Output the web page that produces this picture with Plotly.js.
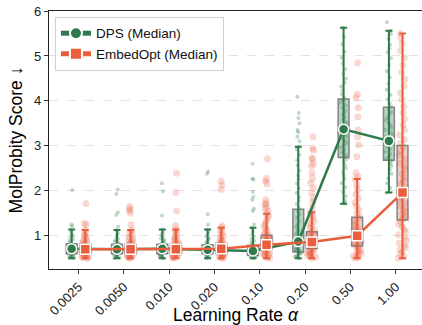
<!DOCTYPE html>
<html>
<head>
<meta charset="utf-8">
<script src="https://cdn.plot.ly/plotly-3.0.1.min.js"></script>
<style>html,body{margin:0;padding:0;background:#fff;}#chart{width:422px;height:325px;}</style>
</head>
<body>
<div id="chart"></div>
<script>
// ---- data ----
const lrLabels = ['0.0025','0.0050','0.010','0.020','0.10','0.20','0.50','1.00'];

const dpsMedian = [0.71,0.70,0.71,0.69,0.66,0.87,3.37,3.11];
const dpsQ1     = [0.60,0.60,0.60,0.60,0.56,0.64,2.74,2.68];
const dpsQ3     = [0.82,0.81,0.81,0.80,0.79,1.59,4.04,3.86];
const dpsLow    = [0.50,0.50,0.50,0.50,0.50,0.50,1.71,1.96];
const dpsHigh   = [1.14,1.13,1.14,1.14,1.18,2.98,5.63,5.56];

const eoMedian = [0.70,0.70,0.70,0.71,0.80,0.86,1.00,1.96];
const eoQ1     = [0.59,0.59,0.59,0.60,0.70,0.72,0.77,1.35];
const eoQ3     = [0.81,0.81,0.81,0.83,1.01,1.09,1.41,3.01];
const eoLow    = [0.50,0.50,0.50,0.50,0.50,0.50,0.50,0.50];
const eoHigh   = [1.13,1.13,1.14,1.18,1.49,1.52,2.26,5.50];

const dpsPoints = [
 [0.50,0.51,0.53,0.55,0.56,0.58,0.59,0.60,0.61,0.62,0.63,0.64,0.65,0.66,0.67,0.68,0.69,0.70,0.71,0.71,0.72,0.73,0.74,0.76,0.77,0.79,0.81,0.83,0.86,0.88,0.92,0.95,0.99,1.03,1.08,1.13,1.21,1.25,2.02],
 [0.50,0.52,0.53,0.55,0.57,0.58,0.60,0.61,0.62,0.63,0.64,0.66,0.67,0.68,0.69,0.70,0.70,0.71,0.72,0.73,0.75,0.76,0.78,0.80,0.82,0.84,0.87,0.90,0.93,0.97,1.01,1.06,1.12,1.20,1.46,1.52,1.93,2.03],
 [0.50,0.51,0.54,0.55,0.57,0.59,0.60,0.61,0.62,0.64,0.65,0.66,0.67,0.68,0.69,0.70,0.71,0.71,0.72,0.74,0.75,0.77,0.78,0.80,0.82,0.85,0.88,0.91,0.94,0.98,1.02,1.07,1.14,1.45,1.99,2.17],
 [0.50,0.52,0.53,0.55,0.56,0.58,0.60,0.61,0.62,0.63,0.64,0.65,0.66,0.68,0.69,0.69,0.70,0.71,0.72,0.73,0.75,0.76,0.78,0.80,0.82,0.84,0.87,0.91,0.95,0.99,1.04,1.09,1.14,1.25,1.48,2.38,2.43],
 [0.50,0.51,0.52,0.54,0.55,0.56,0.57,0.58,0.59,0.60,0.61,0.62,0.63,0.64,0.65,0.66,0.67,0.68,0.70,0.71,0.73,0.75,0.77,0.79,0.82,0.85,0.89,0.93,0.98,1.04,1.10,1.18,1.25,1.55,1.60,1.80,1.87,1.98,2.25,2.27,2.60],
 [0.50,0.51,0.53,0.55,0.57,0.59,0.61,0.63,0.64,0.66,0.68,0.70,0.72,0.74,0.77,0.80,0.83,0.87,0.90,0.94,0.98,1.03,1.08,1.13,1.19,1.25,1.32,1.40,1.48,1.55,1.62,1.70,1.78,1.86,1.95,2.05,2.16,2.25,2.34,2.45,2.56,2.68,2.80,2.92,2.98,3.10,3.20,3.30,3.35,3.50,3.62,3.73,4.09],
 [1.71,1.78,1.88,1.97,2.08,2.17,2.26,2.34,2.42,2.50,2.57,2.63,2.70,2.75,2.80,2.86,2.91,2.96,3.01,3.06,3.11,3.16,3.21,3.26,3.31,3.35,3.39,3.43,3.48,3.53,3.58,3.63,3.68,3.73,3.78,3.84,3.90,3.96,4.02,4.08,4.15,4.23,4.32,4.41,4.50,4.60,4.71,4.83,4.96,5.10,5.26,5.42,5.63],
 [1.96,2.06,2.17,2.28,2.38,2.47,2.55,2.61,2.67,2.72,2.77,2.82,2.87,2.92,2.97,3.02,3.07,3.11,3.15,3.20,3.25,3.30,3.35,3.40,3.46,3.51,3.57,3.63,3.69,3.75,3.81,3.87,3.94,4.03,4.13,4.25,4.38,4.52,4.66,4.80,4.95,5.08,5.16,5.25,5.38,5.49,5.56,5.75]
];

const eoPoints = [
 [0.50,0.51,0.52,0.54,0.55,0.56,0.58,0.59,0.60,0.61,0.62,0.63,0.64,0.65,0.66,0.67,0.68,0.69,0.70,0.70,0.71,0.72,0.73,0.74,0.75,0.77,0.78,0.80,0.82,0.84,0.86,0.89,0.92,0.95,0.99,1.03,1.07,1.13,1.25,1.27,1.72],
 [0.50,0.51,0.53,0.54,0.56,0.57,0.58,0.60,0.61,0.62,0.63,0.64,0.65,0.66,0.67,0.68,0.69,0.70,0.70,0.71,0.72,0.73,0.75,0.76,0.78,0.79,0.81,0.83,0.85,0.88,0.91,0.94,0.98,1.02,1.07,1.13,1.25,1.50,1.56,1.60,1.65],
 [0.50,0.52,0.53,0.54,0.56,0.57,0.59,0.60,0.61,0.62,0.63,0.64,0.65,0.66,0.67,0.68,0.69,0.70,0.70,0.71,0.72,0.74,0.75,0.76,0.78,0.80,0.81,0.83,0.86,0.89,0.92,0.95,0.99,1.04,1.09,1.14,1.23,1.55,1.96,2.39],
 [0.50,0.51,0.53,0.55,0.56,0.57,0.59,0.60,0.61,0.62,0.63,0.65,0.66,0.67,0.68,0.69,0.70,0.71,0.71,0.72,0.73,0.75,0.76,0.78,0.79,0.81,0.83,0.85,0.88,0.91,0.95,0.99,1.03,1.08,1.13,1.18,1.22,2.03,2.13,2.22],
 [0.50,0.52,0.54,0.56,0.58,0.60,0.62,0.64,0.66,0.68,0.70,0.72,0.74,0.76,0.78,0.79,0.80,0.81,0.83,0.85,0.87,0.89,0.91,0.93,0.96,0.99,1.01,1.04,1.08,1.12,1.16,1.21,1.26,1.32,1.38,1.44,1.49,1.55,1.60,1.65,1.70,1.73,1.80,2.15,2.21,2.28,2.71],
 [0.50,0.52,0.54,0.56,0.58,0.60,0.62,0.64,0.66,0.68,0.70,0.72,0.74,0.76,0.78,0.80,0.82,0.84,0.86,0.88,0.90,0.93,0.96,0.99,1.02,1.05,1.09,1.13,1.17,1.22,1.27,1.32,1.38,1.45,1.51,1.62,1.75,1.84,1.95,2.06,2.17,2.28,2.40,2.55,2.60,2.70,2.73,2.90,2.95,3.20],
 [0.50,0.52,0.55,0.57,0.60,0.63,0.66,0.69,0.72,0.75,0.78,0.81,0.84,0.87,0.90,0.93,0.96,0.98,1.00,1.02,1.05,1.08,1.11,1.15,1.19,1.23,1.28,1.33,1.38,1.43,1.50,1.58,1.66,1.74,1.83,1.92,2.02,2.13,2.26,2.31,2.40,2.76,3.02,3.20,3.35,3.65,3.85,4.07,4.15,4.85],
 [0.50,0.54,0.59,0.64,0.69,0.74,0.79,0.84,0.90,0.96,1.02,1.08,1.14,1.20,1.26,1.32,1.37,1.42,1.48,1.54,1.60,1.66,1.72,1.78,1.84,1.90,1.96,2.02,2.08,2.15,2.22,2.30,2.38,2.46,2.54,2.62,2.70,2.79,2.88,2.97,3.05,3.14,3.24,3.35,3.47,3.60,3.74,3.88,4.03,4.18,4.33,4.48,4.64,4.80,4.96,5.12,5.27,5.40,5.50]
];

// ---- styling ----
const GREEN = '#2E7A4B';
const RED = '#EA5E3D';
const OFF = 0.15;
const BOXW = 0.24;
const FONT = 'Liberation Sans, Arial, Helvetica, sans-serif';

const cats = lrLabels.map((_, i) => i);
const dpsX = cats.map(i => i - OFF);
const eoX = cats.map(i => i + OFF);

function whiskers(xs, med, lo, hi, color) {
  return {
    type: 'scatter', mode: 'markers', x: xs, y: med,
    marker: {size: 1, opacity: 0},
    error_y: {type: 'data', symmetric: false,
      array: hi.map((h, i) => h - med[i]),
      arrayminus: lo.map((l, i) => med[i] - l),
      color: color, thickness: 2, width: 3.5},
    showlegend: false, hoverinfo: 'skip'
  };
}
function points(xs, pts, color, size, jitter) {
  const x = [], y = [];
  pts.forEach((arr, i) => arr.forEach(v => { x.push(xs[i]); y.push(v); }));
  return {
    type: 'box', x: x, y: y, width: BOXW,
    boxpoints: 'all', jitter: jitter, pointpos: 0,
    line: {width: 0, color: 'rgba(0,0,0,0)'}, fillcolor: 'rgba(0,0,0,0)',
    marker: {color: color, size: size, line: {width: 0}},
    showlegend: false, hoverinfo: 'skip'
  };
}
function boxes(xs, q1, med, q3, fill) {
  return {
    type: 'box', x: xs, q1: q1, median: med, q3: q3,
    lowerfence: q1, upperfence: q3, width: BOXW, whiskerwidth: 0,
    boxpoints: false,
    line: {color: 'rgba(115,115,115,0.85)', width: 1.5},
    fillcolor: fill, showlegend: false, hoverinfo: 'skip'
  };
}

const traces = [
  whiskers(dpsX, dpsMedian, dpsLow, dpsHigh, GREEN),
  whiskers(eoX, eoMedian, eoLow, eoHigh, RED),
  points(dpsX, dpsPoints, 'rgba(46,122,75,0.30)', 4, 0.7),
  points(eoX, eoPoints, 'rgba(234,94,61,0.24)', 7, 0.8),
  boxes(dpsX, dpsQ1, dpsMedian, dpsQ3, 'rgba(60,130,85,0.35)'),
  boxes(eoX, eoQ1, eoMedian, eoQ3, 'rgba(200,110,90,0.30)'),
  {type: 'scatter', mode: 'lines+markers', name: 'DPS (Median)', x: dpsX, y: dpsMedian,
   line: {color: GREEN, width: 2.5},
   marker: {symbol: 'circle', size: 10, color: GREEN, line: {color: '#fff', width: 1.5}}},
  {type: 'scatter', mode: 'lines+markers', name: 'EmbedOpt (Median)', x: eoX, y: eoMedian,
   line: {color: RED, width: 2.5},
   marker: {symbol: 'square', size: 10, color: RED, line: {color: '#fff', width: 1.5}}}
];

const layout = {
  width: 422, height: 325,
  margin: {l: 49, r: 0, t: 11, b: 56},
  paper_bgcolor: '#fff', plot_bgcolor: '#fff',
  font: {family: FONT, size: 13, color: '#222'},
  boxmode: 'overlay',
  showlegend: true,
  legend: {x: 0.016, y: 0.977, xanchor: 'left', yanchor: 'top',
    bgcolor: 'rgba(255,255,255,0.85)', bordercolor: '#d0d0d0', borderwidth: 1,
    font: {family: FONT, size: 13.5, color: '#111'}, itemsizing: 'constant', tracegroupgap: 0},
  xaxis: {
    range: [-0.65, 7.58], tickmode: 'array', tickvals: cats, ticktext: lrLabels,
    tickangle: -45, ticks: 'outside', ticklen: 4, tickcolor: '#333',
    showline: true, linecolor: '#222', linewidth: 1.2, mirror: true,
    showgrid: false, zeroline: false,
    tickfont: {family: FONT, size: 13, color: '#222'},
    title: {text: 'Learning Rate <i>α</i>', font: {family: FONT, size: 17.5, color: '#000'}, standoff: 0}
  },
  yaxis: {
    range: [0.26, 6], tickmode: 'array', tickvals: [1,2,3,4,5,6],
    ticks: 'outside', ticklen: 4, tickcolor: '#333',
    showline: true, linecolor: '#222', linewidth: 1.2,
    showgrid: true, gridcolor: '#e2e2e2', griddash: 'dash', gridwidth: 1,
    zeroline: false,
    tickfont: {family: FONT, size: 13, color: '#222'},
    title: {text: 'MolProbity Score ↓', font: {family: FONT, size: 17.5, color: '#000'}, standoff: 6}
  }
};

Plotly.newPlot('chart', traces, layout, {staticPlot: true, displayModeBar: false});
</script>
</body>
</html>
